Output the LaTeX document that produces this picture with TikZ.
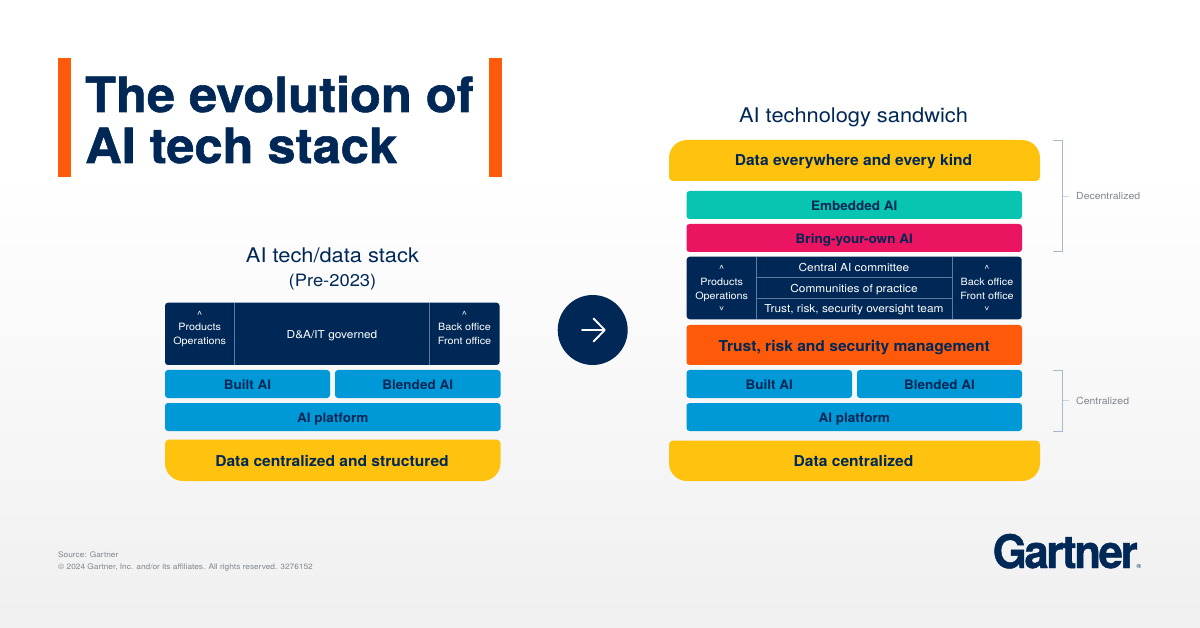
\documentclass[tikz,border=0pt]{standalone}
\usepackage{fontspec}
\usepackage{graphicx}
\setmainfont[FakeStretch=1.08]{TeX Gyre Heros}
\newfontfamily\boldf[FakeStretch=1.04]{TeX Gyre Heros}
\newfontfamily\titlef[FakeStretch=1.04,FakeBold=1.2]{TeX Gyre Heros}
\newfontfamily\logof[FakeStretch=.95,FakeBold=1,LetterSpace=-5]{TeX Gyre Heros}
\definecolor{navy}{HTML}{002856}
\definecolor{skyb}{HTML}{0099D8}
\definecolor{gold}{HTML}{FFC20E}
\definecolor{teal2}{HTML}{07C5B0}
\definecolor{pink2}{HTML}{EB1460}
\definecolor{orange2}{HTML}{FF5A0A}
\definecolor{rulec}{HTML}{5F7A9C}
\definecolor{brack}{HTML}{A9B8CC}
\definecolor{greytxt}{HTML}{7F8790}
\newcommand{\downcaret}{\scalebox{1}[-1]{\textasciicircum}}
\tikzset{
 x=1pt,y=-1pt,
 lbl/.style={inner sep=0pt,anchor=base,text=white,font=\fontsize{11}{11}\selectfont},
 lblside/.style={inner sep=0pt,anchor=base,text=white,font=\fontsize{10}{10}\selectfont},
 bandtxt/.style={inner sep=0pt,anchor=base,text=navy,font=\boldf\bfseries\fontsize{#1}{#1}\selectfont},
 bandtxt/.default=13,
 captxt/.style={inner sep=0pt,anchor=base,text=navy,font=\fontsize{20.2}{24}\selectfont},
 brk/.style={draw=brack,line width=.9pt},
 brktick/.style={draw=brack!60,line width=.9pt},
 sidetxt/.style={inner sep=0pt,anchor=west,text=greytxt,font=\fontsize{9.7}{11}\selectfont},
 smalltxt/.style={inner sep=0pt,anchor=base west,text=greytxt,font=\fontsize{7.7}{8}\selectfont},
 orbar/.style={fill=orange2},
 divl/.style={draw=rulec,line width=.7pt},
 titletxt/.style={inner sep=0pt,anchor=base west,text=navy,font=\titlef\bfseries\fontsize{48.6}{49}\selectfont},
}
% \band{name}{x1}{y1}{x2}{y2}{colour}{label}{size}
\newcommand{\band}[8]{%
 \pgfmathsetmacro{\bw}{#4-(#2)}\pgfmathsetmacro{\bh}{#5-(#3)}%
 \pgfmathsetmacro{\bx}{(#2+#4)/2}\pgfmathsetmacro{\by}{(#3+#5)/2}%
 \pgfmathsetmacro{\bo}{0.42*#8}%
 \node[inner sep=0pt,fill=#6,rounded corners=3pt,minimum width=\bw pt,minimum height=\bh pt] (#1) at (\bx,\by) {};%
 \node[bandtxt=#8,yshift=-\bo pt] (#1t) at (#1.center) {#7};%
}
\begin{document}
\begin{tikzpicture}
\useasboundingbox (0,0) rectangle (1200,628);
\fill[white] (0,0) rectangle (1200,628);
\shade[top color=white,bottom color=black!6] (0,170) rectangle (1200,628);
% title
\fill[orbar] (58.3,58) rectangle (71,177);
\fill[orbar] (489,58) rectangle (502,177);
\node[titletxt] (t1) at (85,112) {The evolution of};
\node[titletxt] (t2) at (85,163) {AI tech stack};
% left stack
\node[captxt] (lc1) at (332.5,262.5) {AI tech/data stack};
\node[captxt,font=\fontsize{17}{20}\selectfont] (lc2) at (332.5,286.5) {(Pre-2023)};
\band{lpanel}{165}{302.7}{499.5}{365}{navy}{}{11}
\draw[divl] (234.5,302.7) -- (234.5,365);
\draw[divl] (429.3,302.7) -- (429.3,365);
\node[lblside] (la) at (199.7,318.5) {\textasciicircum};
\node[lblside] (lb1) at (199.7,330.7) {Products};
\node[lblside] (lb2) at (199.7,344.5) {Operations};
\node[lbl] (lc) at (332,339) {D\&A/IT governed};
\node[lblside] (ld) at (464.5,318.5) {\textasciicircum};
\node[lblside] (le1) at (464.5,330.7) {Back office};
\node[lblside] (le2) at (464.5,344.5) {Front office};
\band{lbuilt}{165}{370}{330}{398}{skyb}{Built AI}{13}
\band{lblend}{335}{370}{500.5}{398}{skyb}{Blended AI}{13}
\band{lplat}{165}{403}{500.5}{431}{skyb}{AI platform}{13}
\fill[gold] (330,439.5) [rounded corners=4pt] -- (500.5,439.5) [rounded corners=18pt] -- (500.5,481) -- (165,481) [rounded corners=4pt] -- (165,439.5) -- cycle;
\node[bandtxt=15] (ldata) at (332,466.2) {Data centralized and structured};
% arrow
\node[circle,fill=navy,minimum size=70pt,inner sep=0pt] (circ) at (592.7,330) {};
\draw[white,line width=1.9pt,line cap=round,line join=round] (582,330) -- (604.5,330) (593.5,318.5) -- (604.8,330) -- (593.5,341.5);
% right stack
\node[captxt] (rc) at (853.5,122.5) {AI technology sandwich};
\fill[gold] (850,181) [rounded corners=4pt] -- (1040,181) [rounded corners=18pt] -- (1040,140) -- (669,140) [rounded corners=4pt] -- (669,181) -- cycle;
\node[bandtxt=15] (rdata1) at (853.5,166) {Data everywhere and every kind};
\band{remb}{686.5}{191}{1022}{219}{teal2}{Embedded AI}{13}
\band{rbyo}{686.5}{224}{1022}{252}{pink2}{Bring-your-own AI}{13}
\band{rpanel}{686.7}{256.7}{1021.7}{319.3}{navy}{}{11}
\draw[divl] (756.3,256.7) -- (756.3,319.3);
\draw[divl] (952,256.7) -- (952,319.3);
\draw[divl] (756.3,277.7) -- (952,277.7);
\draw[divl] (756.3,298.3) -- (952,298.3);
\node[lblside] (ra) at (721.7,272.5) {\textasciicircum};
\node[lblside] (rb1) at (721.7,285.2) {Products};
\node[lblside] (rb2) at (721.7,299.5) {Operations};
\node[lblside] (rbb) at (721.7,303.5) {\downcaret};
\node[lbl] (rc1) at (854,272) {Central AI committee};
\node[lbl] (rc2) at (854,292.7) {Communities of practice};
\node[lbl] (rc3) at (854,313) {Trust, risk, security oversight team};
\node[lblside] (rd) at (987,272.5) {\textasciicircum};
\node[lblside] (re1) at (987,285.2) {Back office};
\node[lblside] (re2) at (987,299.5) {Front office};
\node[lblside] (rf) at (987,303.5) {\downcaret};
\band{rtrust}{686.5}{325}{1022}{365}{orange2}{Trust, risk and security management}{15}
\band{rbuilt}{686.5}{370}{852}{398}{skyb}{Built AI}{13}
\band{rblend}{857}{370}{1022}{398}{skyb}{Blended AI}{13}
\band{rplat}{686.5}{403}{1022}{431}{skyb}{AI platform}{13}
\fill[gold] (850,440.5) [rounded corners=4pt] -- (1040,440.5) [rounded corners=18pt] -- (1040,481) -- (669,481) [rounded corners=4pt] -- (669,440.5) -- cycle;
\node[bandtxt=15] (rdata2) at (853.5,466.7) {Data centralized};
% brackets
\draw[brk] (1053,140.5) -- (1062.7,140.5) -- (1062.7,251) -- (1053,251);
\draw[brktick] (1063,196) -- (1069,196);
\node[sidetxt] (dec) at (1076,196.5) {Decentralized};
\draw[brk] (1053,370) -- (1062.7,370) -- (1062.7,431) -- (1053,431);
\draw[brktick] (1063,400.5) -- (1069,400.5);
\node[sidetxt] (cen) at (1076,401) {Centralized};
% footer
\node[smalltxt] (s1) at (58,557.5) {Source: Gartner};
\node[smalltxt] (s2) at (58,569.5) {© 2024 Gartner, Inc. and/or its affiliates. All rights reserved. 3276152};
\node[inner sep=0pt,anchor=base west,text=navy,font=\logof\bfseries\fontsize{46}{46}\selectfont] (logo) at (992.5,568) {Gartner};
\node[inner sep=0pt,text=navy,font=\fontsize{6}{6}\selectfont] (reg) at (1139,566) {®};
\end{tikzpicture}
\end{document}
